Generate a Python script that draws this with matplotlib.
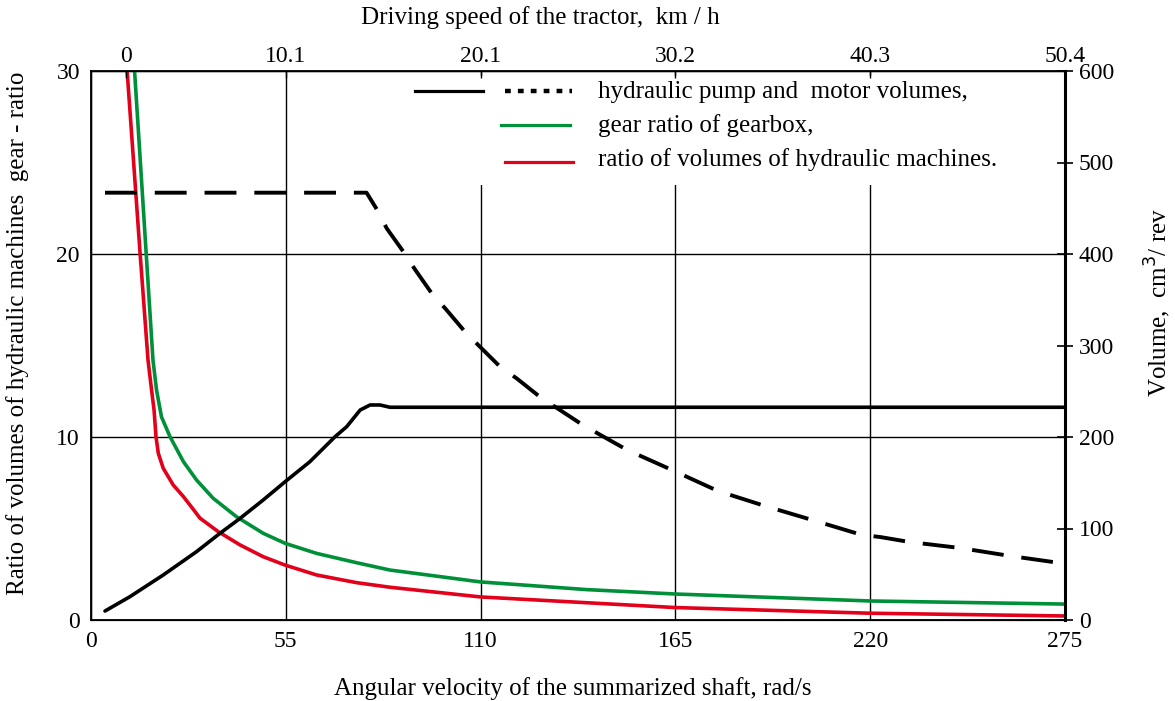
import matplotlib
matplotlib.use('Agg')
import matplotlib.pyplot as plt
from matplotlib.patches import Rectangle

plt.rcParams['font.family'] = ['Liberation Serif', 'DejaVu Serif']

# bottom axis: angular velocity, rad/s
x_ticks = [0, 55, 110, 165, 220, 275]
# top axis: driving speed, km/h
top_tick_pos = [10, 55, 110, 165, 220, 275]
top_tick_labels = ['0', '10.1', '20.1', '30.2', '40.3', '50.4']

# ratio of volumes of hydraulic machines (left axis)
red_x = [10.2, 13.8, 16.1, 17.1, 17.8, 18.35, 19.0, 20.4, 23.2, 26.1, 27.95, 30.8,
         35.9, 42.1, 48.6, 54.8, 63.7, 75.0, 84.4, 110, 165, 220, 275]
red_y = [30.0, 20.2, 14.2, 12.57, 11.48, 10.02, 9.11, 8.29, 7.38, 6.74, 6.28, 5.56,
         4.83, 4.10, 3.46, 3.0, 2.46, 2.04, 1.79, 1.26, 0.68, 0.37, 0.22]

# gear ratio of gearbox (left axis)
green_x = [12.3, 17.5, 18.5, 19.9, 22.3, 26.1, 29.8, 34.5, 41.1, 48.6, 54.8,
           63.7, 75.0, 84.4, 110, 140, 165, 220, 275]
green_y = [30.0, 14.2, 12.57, 11.1, 10.02, 8.65, 7.65, 6.65, 5.64, 4.74, 4.19,
           3.64, 3.13, 2.73, 2.08, 1.66, 1.42, 1.04, 0.87]

# hydraulic motor volume, solid (right axis, cm3/rev)
motor_x = [3.95, 11.0, 20.4, 29.8, 36.4, 42.1, 48.6, 54.8, 61.8, 68.9, 72.2,
           76.0, 78.8, 81.6, 84.4, 275]
motor_v = [9.8, 25.5, 49.2, 74.7, 94.7, 111.1, 131.1, 151.1, 173, 200.3, 211.3,
           229.5, 235, 235, 232.5, 232.5]

# hydraulic pump volume, dashed (right axis, cm3/rev)
pump_x = [3.95, 77.8, 80.7, 83.5, 88.2, 91.5, 96.2, 100.4, 105.6, 109.8, 115.5,
          120.2, 126.8, 138.9, 151.3, 164, 177, 190.3, 203.9, 217.7, 222.8, 231.2,
          245.4, 259.5, 273.6]
pump_v = [467, 467, 448.8, 428, 402.5, 383, 357, 338.8, 315, 298.7, 276.8,
          264, 243.7, 213, 186, 164, 141, 124.6, 109, 92.9, 90.7, 85.2,
          78.7, 70, 62.3]

legend_labels = ['hydraulic pump and  motor volumes,', 'gear ratio of gearbox,',
                 'ratio of volumes of hydraulic machines.']

GREEN = '#00903a'
RED = '#e3001b'
W, H = 1175, 701
L, R, T, B = 91, 1065, 71, 620
TICK_FS = 17
LABEL_FS = 18

fig = plt.figure(figsize=(W / 100, H / 100), dpi=100)
ax = fig.add_axes([L / W, 1 - B / H, (R - L) / W, (B - T) / H])
ax.set_xlim(0, 275)
ax.set_ylim(0, 30)
ax.set_xticks(x_ticks)
ax.set_yticks([0, 10, 20, 30])
ax.set_axisbelow(True)
ax.grid(True, color='black', linewidth=1.0)
ax.tick_params(axis='both', length=0, labelsize=TICK_FS, pad=8)
for s in ['left', 'bottom', 'top']:
    ax.spines[s].set_linewidth(1.3)

ax.plot(red_x, red_y, color=RED, linewidth=2.6, zorder=3)
ax.plot(green_x, green_y, color=GREEN, linewidth=2.6, zorder=3)

fig.text(573 / W, 1 - 689 / H, 'Angular velocity of the summarized shaft, rad/s',
         fontsize=LABEL_FS, ha='center', va='center')
fig.text(18 / W, 1 - 333 / H, 'Ratio of volumes of hydraulic machines  gear - ratio',
         fontsize=LABEL_FS, rotation=90, ha='center', va='center')

# top axis
ax_top = ax.twiny()
ax_top.set_xlim(0, 275)
ax_top.set_xticks(top_tick_pos)
ax_top.set_xticklabels(top_tick_labels)
ax_top.tick_params(axis='x', direction='in', length=5, width=1.0, labelsize=TICK_FS, pad=3)
fig.text(540 / W, 1 - 18 / H, 'Driving speed of the tractor,  km / h',
         fontsize=LABEL_FS, ha='center', va='center')

# right axis
ax_r = ax.twinx()
ax_r.set_ylim(0, 600)
ax_r.set_yticks([0, 100, 200, 300, 400, 500, 600])
ax_r.tick_params(axis='y', direction='inout', length=12, width=1.2, labelsize=TICK_FS, pad=4)
ax_r.spines['right'].set_linewidth(2.2)
ax_r.plot(motor_x, motor_v, color='black', linewidth=2.6, solid_capstyle='round')
ax_r.plot(pump_x, pump_v, color='black', linewidth=2.8, linestyle=(0, (8.2, 4.6)))
fig.text(1158 / W, 1 - 302 / H, 'Volume,  cm$^3$/ rev', fontsize=LABEL_FS,
         rotation=90, ha='center', va='center')


def fx(px):
    return (px - L) / (R - L)


def fy(py):
    return (B - py) / (B - T)


# legend drawn by hand: white box hides the grid behind it
ax.add_patch(Rectangle((fx(400), fy(185)), fx(1015) - fx(400), fy(76) - fy(185),
                       transform=ax.transAxes, facecolor='white', edgecolor='none', zorder=1))
tr = ax_r.transAxes
ax_r.plot([fx(415), fx(483)], [fy(91), fy(91)], color='black', linewidth=2.3, transform=tr)
ax_r.plot([fx(505), fx(572)], [fy(91), fy(91)], color='black', linewidth=3.2,
          linestyle=(0, (1.3, 1.6)), transform=tr)
ax_r.plot([fx(501), fx(570)], [fy(125), fy(125)], color=GREEN, linewidth=2.3, transform=tr)
ax_r.plot([fx(505), fx(573)], [fy(162), fy(162)], color=RED, linewidth=2.3, transform=tr)
for label, py in zip(legend_labels, [92, 126, 160]):
    ax_r.text(fx(598), fy(py), label, fontsize=LABEL_FS, ha='left', va='center', transform=tr)

fig.savefig('out.png', dpi=100)
